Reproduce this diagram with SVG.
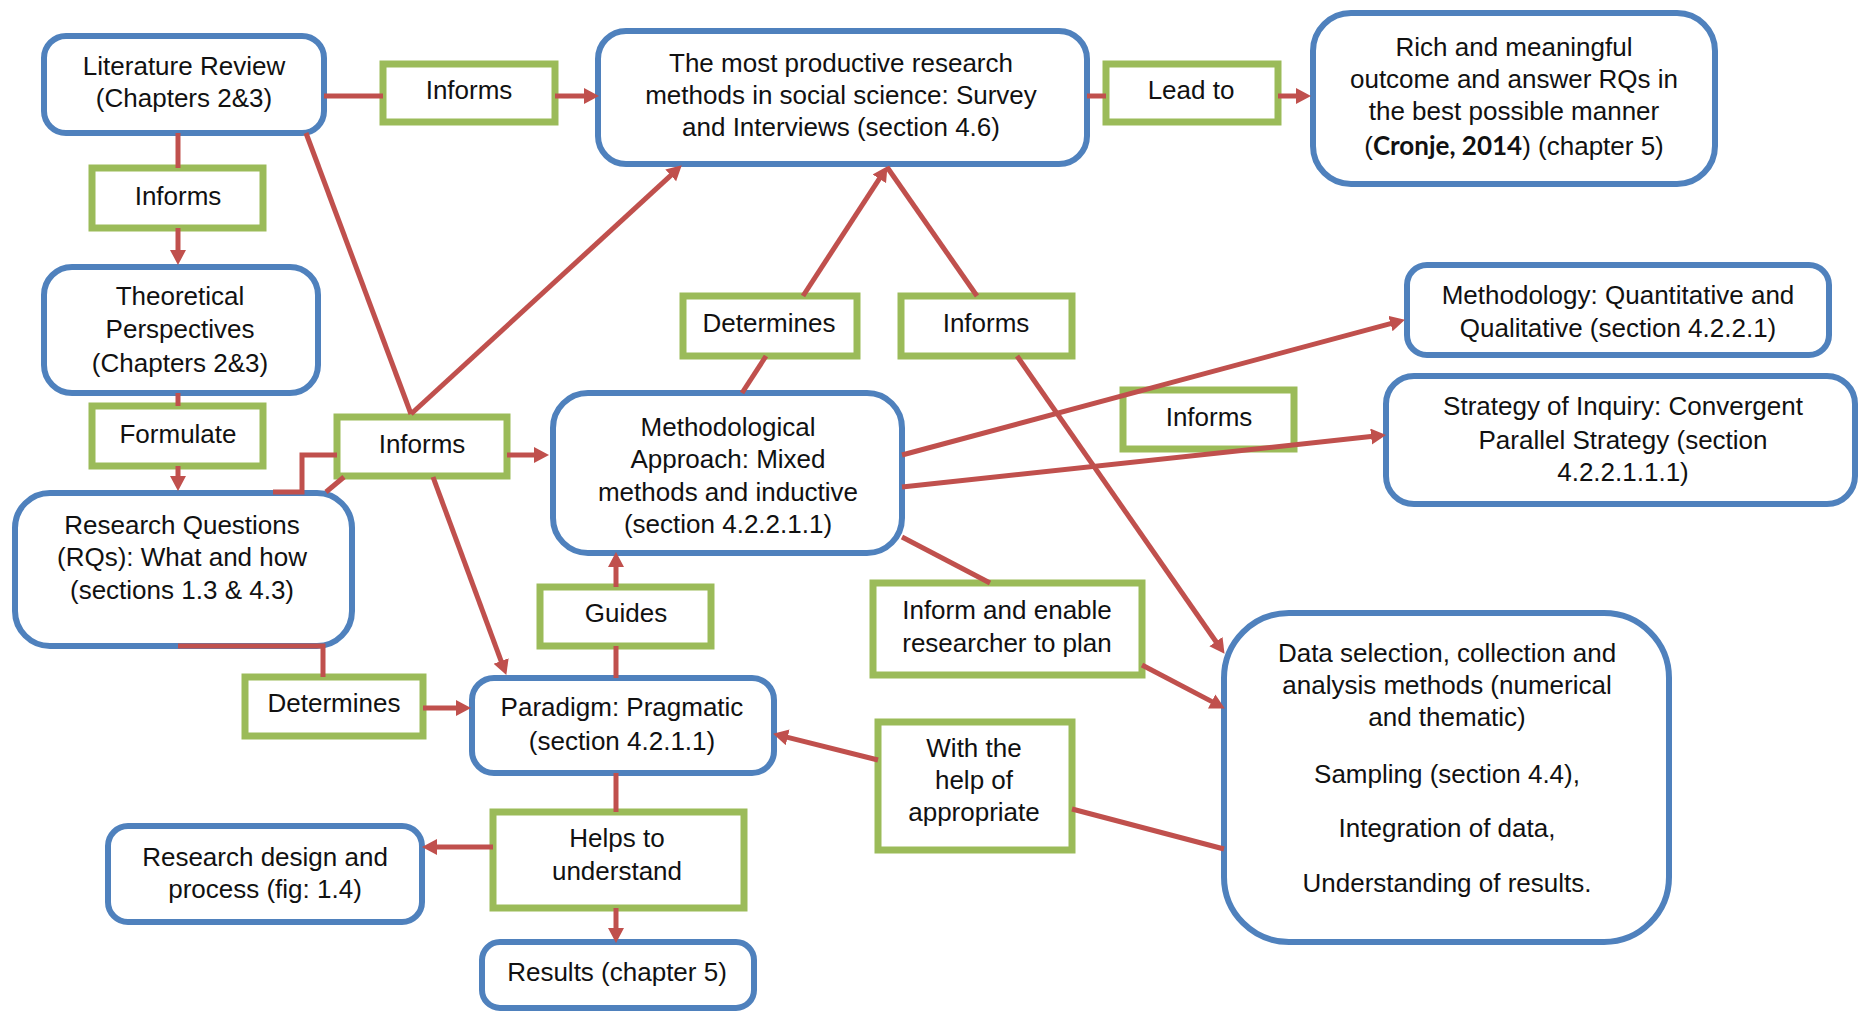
<svg xmlns="http://www.w3.org/2000/svg" width="1858" height="1013" viewBox="0 0 1858 1013">
<defs>
<style>
.n rect{fill:#fff;stroke:#4F81BD;stroke-width:6}
.l rect{fill:#fff;stroke:#9BBB59;stroke-width:7}
text{font-family:"Liberation Sans",Arial,sans-serif;font-size:26px;fill:#111;text-anchor:middle}
.c line,.c polyline{stroke:#C0504D;stroke-width:5;fill:none}
.b{font-family:Lato,"Liberation Sans",sans-serif;font-weight:700}
</style>
<marker id="ah" markerUnits="userSpaceOnUse" markerWidth="17" markerHeight="17" refX="2" refY="8" orient="auto">
<path d="M0,0 L15,8 L0,16 z" fill="#C0504D"/>
</marker>
</defs>
<rect width="1858" height="1013" fill="#fff"/>

<g id="lit" class="n"><rect x="44" y="36" width="280" height="97" rx="22"/><text x="184" y="75">Literature Review</text><text x="184" y="107">(Chapters 2&amp;3)</text></g>
<g id="lbl-informs1" class="l"><rect x="383" y="64" width="172" height="58"/><text x="469" y="99">Informs</text></g>
<g id="productive" class="n"><rect x="598" y="31" width="489" height="133" rx="28"/><text x="841" y="72">The most productive research</text><text x="841" y="104">methods in social science: Survey</text><text x="841" y="136">and Interviews (section 4.6)</text></g>
<g id="lbl-leadto" class="l"><rect x="1106" y="64" width="172" height="58"/><text x="1191" y="99">Lead to</text></g>
<g id="rich" class="n"><rect x="1313" y="13" width="402" height="171" rx="38"/><text x="1514" y="56">Rich and meaningful</text><text x="1514" y="88">outcome and answer RQs in</text><text x="1514" y="120">the best possible manner</text><text x="1514" y="155">(<tspan class="b">Cronje, 2014</tspan>) (chapter 5)</text></g>
<g id="lbl-informs2" class="l"><rect x="92" y="168" width="171" height="60"/><text x="178" y="205">Informs</text></g>
<g id="theoretical" class="n"><rect x="44" y="267" width="274" height="126" rx="28"/><text x="180" y="305">Theoretical</text><text x="180" y="338">Perspectives</text><text x="180" y="372">(Chapters 2&amp;3)</text></g>
<g id="lbl-formulate" class="l"><rect x="92" y="406" width="171" height="60"/><text x="178" y="443">Formulate</text></g>
<g id="lbl-informs3" class="l"><rect x="337" y="417" width="170" height="59"/><text x="422" y="453">Informs</text></g>
<g id="rq" class="n"><rect x="15" y="493" width="337" height="153" rx="35"/><text x="182" y="534">Research Questions</text><text x="182" y="566">(RQs): What and how</text><text x="182" y="599">(sections 1.3 &amp; 4.3)</text></g>
<g id="lbl-determines1" class="l"><rect x="683" y="296" width="174" height="60"/><text x="769" y="332">Determines</text></g>
<g id="lbl-informs4" class="l"><rect x="901" y="296" width="171" height="60"/><text x="986" y="332">Informs</text></g>
<g id="methodology" class="n"><rect x="1407" y="265" width="422" height="90" rx="20"/><text x="1618" y="304">Methodology: Quantitative and</text><text x="1618" y="337">Qualitative (section 4.2.2.1)</text></g>
<g id="lbl-informs5" class="l"><rect x="1123" y="390" width="171" height="59"/><text x="1209" y="426">Informs</text></g>
<g id="strategy" class="n"><rect x="1386" y="376" width="469" height="128" rx="28"/><text x="1623" y="415">Strategy of Inquiry: Convergent</text><text x="1623" y="449">Parallel Strategy (section</text><text x="1623" y="481">4.2.2.1.1.1)</text></g>
<g id="approach" class="n"><rect x="553" y="393" width="349" height="160" rx="35"/><text x="728" y="436">Methodological</text><text x="728" y="468">Approach: Mixed</text><text x="728" y="501">methods and inductive</text><text x="728" y="533">(section 4.2.2.1.1)</text></g>
<g id="lbl-guides" class="l"><rect x="540" y="587" width="171" height="59"/><text x="626" y="622">Guides</text></g>
<g id="lbl-enable" class="l"><rect x="873" y="583" width="269" height="92"/><text x="1007" y="619">Inform and enable</text><text x="1007" y="652">researcher to plan</text></g>
<g id="data" class="n"><rect x="1224" y="613" width="445" height="329" rx="65"/><text x="1447" y="662">Data selection, collection and</text><text x="1447" y="694">analysis methods (numerical</text><text x="1447" y="726">and thematic)</text><text x="1447" y="783">Sampling (section 4.4),</text><text x="1447" y="837">Integration of data,</text><text x="1447" y="892">Understanding of results.</text></g>
<g id="lbl-determines2" class="l"><rect x="245" y="677" width="178" height="59"/><text x="334" y="712">Determines</text></g>
<g id="paradigm" class="n"><rect x="472" y="678" width="302" height="95" rx="22"/><text x="622" y="716">Paradigm: Pragmatic</text><text x="622" y="750">(section 4.2.1.1)</text></g>
<g id="lbl-withhelp" class="l"><rect x="878" y="722" width="194" height="128"/><text x="974" y="757">With the</text><text x="974" y="789">help of</text><text x="974" y="821">appropriate</text></g>
<g id="lbl-helps" class="l"><rect x="493" y="812" width="251" height="96"/><text x="617" y="847">Helps to</text><text x="617" y="880">understand</text></g>
<g id="design" class="n"><rect x="108" y="826" width="314" height="96" rx="20"/><text x="265" y="866">Research design and</text><text x="265" y="898">process (fig: 1.4)</text></g>
<g id="results" class="n"><rect x="482" y="942" width="272" height="66" rx="18"/><text x="617" y="981">Results (chapter 5)</text></g>

<g id="connectors" class="c">
<line x1="324" y1="96" x2="383" y2="96"/>
<line x1="555" y1="96" x2="586" y2="96" marker-end="url(#ah)"/>
<line x1="1087" y1="96" x2="1106" y2="96"/>
<line x1="1278" y1="96" x2="1298" y2="96" marker-end="url(#ah)"/>
<line x1="178" y1="133" x2="178" y2="168"/>
<line x1="178" y1="228" x2="178" y2="252" marker-end="url(#ah)"/>
<line x1="178" y1="393" x2="178" y2="406"/>
<line x1="178" y1="466" x2="178" y2="478" marker-end="url(#ah)"/>
<line x1="306" y1="133" x2="411" y2="414"/>
<line x1="411" y1="414" x2="672.2" y2="174.1" marker-end="url(#ah)"/>
<polyline points="273,492 302,492 302,455 337,455"/>
<line x1="326" y1="492" x2="344" y2="477"/>
<line x1="507" y1="455" x2="536" y2="455" marker-end="url(#ah)"/>
<line x1="433" y1="477" x2="501.8" y2="662.8" marker-end="url(#ah)"/>
<polyline points="178,646 323,646 323,677"/>
<line x1="423" y1="708" x2="458" y2="708" marker-end="url(#ah)"/>
<line x1="742" y1="393" x2="766" y2="356"/>
<line x1="803" y1="296" x2="880.4" y2="177.1" marker-end="url(#ah)"/>
<line x1="887" y1="167" x2="977" y2="296"/>
<line x1="1017" y1="356" x2="1217.1" y2="643.2" marker-end="url(#ah)"/>
<line x1="902" y1="455" x2="1392.4" y2="323.1" marker-end="url(#ah)"/>
<line x1="902" y1="487" x2="1373.1" y2="436.3" marker-end="url(#ah)"/>
<line x1="902" y1="537" x2="990" y2="583"/>
<line x1="1142" y1="665" x2="1213.4" y2="702.4" marker-end="url(#ah)"/>
<line x1="616" y1="678" x2="616" y2="646"/>
<line x1="616" y1="587" x2="616" y2="565" marker-end="url(#ah)"/>
<line x1="1224" y1="849" x2="1072" y2="809"/>
<line x1="878" y1="760" x2="785.7" y2="736.9" marker-end="url(#ah)"/>
<line x1="616" y1="773" x2="616" y2="812"/>
<line x1="493" y1="847" x2="435" y2="847" marker-end="url(#ah)"/>
<line x1="616" y1="908" x2="616" y2="930" marker-end="url(#ah)"/>
</g>
</svg>
